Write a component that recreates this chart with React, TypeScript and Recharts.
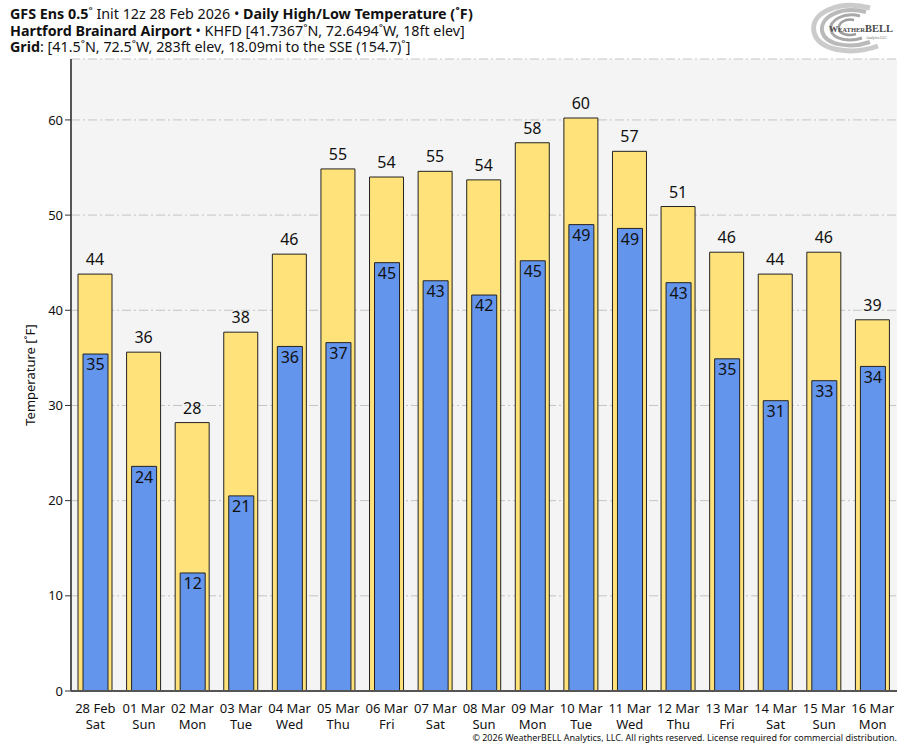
import React from "react";
import {
  BarChart,
  Bar,
  XAxis,
  YAxis,
  CartesianGrid,
  LabelList,
} from "recharts";

const days = [
  "28 Feb", "01 Mar", "02 Mar", "03 Mar", "04 Mar", "05 Mar", "06 Mar", "07 Mar", "08 Mar",
  "09 Mar", "10 Mar", "11 Mar", "12 Mar", "13 Mar", "14 Mar", "15 Mar", "16 Mar",
];
const weekdays = [
  "Sat", "Sun", "Mon", "Tue", "Wed", "Thu", "Fri", "Sat", "Sun",
  "Mon", "Tue", "Wed", "Thu", "Fri", "Sat", "Sun", "Mon",
];
const highs = [43.8, 35.6, 28.2, 37.7, 45.9, 54.85, 54.0, 54.6, 53.7, 57.6, 60.2, 56.7, 50.9, 46.1, 43.8, 46.1, 39.0];
const lows = [35.4, 23.6, 12.4, 20.5, 36.2, 36.6, 45.0, 43.1, 41.6, 45.2, 49.0, 48.6, 42.9, 34.9, 30.5, 32.6, 34.1];
const yTicks = [0, 10, 20, 30, 40, 50, 60];

const data = days.map((d, i) => ({ day: d, wd: weekdays[i], high: highs[i], low: lows[i] }));

const FONT = "'Noto Sans', 'Open Sans', sans-serif";

const DayTick = (props: any) => {
  const { x, y, payload, index } = props;
  return (
    <g transform={`translate(${x},${y})`}>
      <text textAnchor="middle" fontSize={13} fontFamily={FONT} fill="#111">
        <tspan x={0} dy={14}>{payload.value}</tspan>
        <tspan x={0} dy={16}>{weekdays[index]}</tspan>
      </text>
    </g>
  );
};

const round = (v: any) => Math.round(Number(v));

function Logo() {
  return (
    <svg width={110} height={62} style={{ position: "absolute", left: 800, top: 0 }}>
      <g fill="none" stroke="#8c8c8c">
        <path d="M 70 8 C 40 0, 10 12, 14 32 C 18 50, 50 56, 78 46" strokeWidth={5} opacity={0.45} />
        <path d="M 66 12 C 42 6, 20 16, 22 31 C 25 45, 50 49, 70 42" strokeWidth={4} opacity={0.6} />
        <path d="M 60 16 C 44 12, 29 20, 31 30 C 33 40, 50 42, 62 38" strokeWidth={3} opacity={0.75} />
        <path d="M 54 20 C 45 18, 38 23, 39 29 C 40 35, 50 36, 56 34" strokeWidth={2.5} opacity={0.85} />
      </g>
      <text x={29} y={32} fontFamily="'Liberation Serif', serif" fill="#4a4a4a" fontWeight="bold">
        <tspan fontSize={9}>W</tspan><tspan fontSize={6.5}>EATHER</tspan><tspan fontSize={10.5}>BELL</tspan>
      </text>
      <text x={66} y={39} fontSize={3.5} fontFamily="'Liberation Serif', serif" fill="#666">Analytics LLC</text>
    </svg>
  );
}

export default function App() {
  return (
    <div style={{ position: "absolute", left: 0, top: 0, width: 913, height: 750, background: "#fff", fontFamily: FONT }}>
      <div style={{ position: "absolute", left: 10, top: 6, fontSize: 14.3, lineHeight: "16.5px", color: "#111", whiteSpace: "nowrap" }}>
        <div>
          <b>GFS Ens 0.5</b>˚ Init 12z 28 Feb 2026 • <b>Daily High/Low Temperature (˚F)</b>
        </div>
        <div>
          <b>Hartford Brainard Airport</b> • KHFD [41.7367˚N, 72.6494˚W, 18ft elev]
        </div>
        <div>
          <b>Grid</b>: [41.5˚N, 72.5˚W, 283ft elev, 18.09mi to the SSE (154.7)˚]
        </div>
      </div>
      <Logo />
      <BarChart
        width={913}
        height={750}
        data={data}
        margin={{ top: 59, right: 16, left: 11, bottom: 19 }}
        style={{ position: "absolute", left: 0, top: 0 }}
      >
        <CartesianGrid
          vertical={false}
          fill="#f4f4f4"
          stroke="#c4c4c4"
          strokeDasharray="9 3 2 3"
          yAxisId="left"
          xAxisId="hi"
        />
        <XAxis
          xAxisId="hi"
          dataKey="day"
          height={40}
          tick={<DayTick />}
          tickLine={false}
          interval={0}
          axisLine={{ stroke: "#555", strokeWidth: 2 }}
        />
        <XAxis
          xAxisId="lo"
          dataKey="day"
          orientation="top"
          height={0}
          tick={false}
          tickLine={false}
          axisLine={{ stroke: "#333", strokeWidth: 1 }}
        />
        <YAxis
          yAxisId="left"
          width={60}
          domain={[0, 66.4]}
          ticks={yTicks}
          allowDataOverflow
          tick={{ fontSize: 13, fill: "#111", fontFamily: FONT }}
          tickLine={{ stroke: "#333" }}
          tickSize={6}
          axisLine={{ stroke: "#555", strokeWidth: 2 }}
          label={{
            value: "Temperature [˚F]",
            angle: -90,
            position: "insideLeft",
            offset: 19,
            style: { textAnchor: "middle", fontSize: 13, fill: "#111", fontFamily: FONT },
          }}
        />
        <YAxis
          yAxisId="right"
          orientation="right"
          width={0}
          domain={[0, 66.4]}
          tick={false}
          tickLine={false}
          axisLine={{ stroke: "#333", strokeWidth: 1 }}
        />
        <Bar
          dataKey="high"
          xAxisId="hi"
          yAxisId="left"
          barSize={34}
          fill="#ffe27a"
          stroke="#222"
          strokeWidth={1}
          isAnimationActive={false}
        >
          <LabelList dataKey="high" position="top" offset={9} formatter={round} fontSize={16} fill="#111" fontFamily={FONT} />
        </Bar>
        <Bar
          dataKey="low"
          xAxisId="lo"
          yAxisId="left"
          barSize={25}
          fill="#6495ed"
          stroke="#222"
          strokeWidth={1}
          isAnimationActive={false}
        >
          <LabelList dataKey="low" position="insideTop" offset={5} formatter={round} fontSize={16} fill="#111" fontFamily={FONT} />
        </Bar>
      </BarChart>
      <div style={{ position: "absolute", right: 16, top: 731, fontSize: 9, color: "#111", whiteSpace: "nowrap" }}>
        © 2026 WeatherBELL Analytics, LLC. All rights reserved. License required for commercial distribution.
      </div>
    </div>
  );
}
